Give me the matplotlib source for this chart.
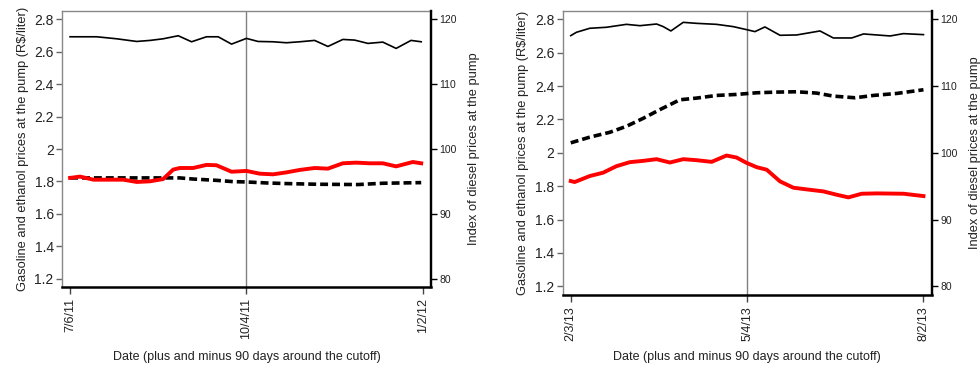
import matplotlib
matplotlib.use("Agg")
import matplotlib.pyplot as plt

plt.rcParams["font.family"] = ["Liberation Sans", "DejaVu Sans"]

# panel 1: 2011 cutoff
TICKS_1 = ["7/6/11", "10/4/11", "1/2/12"]
diesel_days_1 = [0, 13.6, 23.8, 34, 40.8, 47.5, 55.2, 62, 69.6, 75.6, 82.4, 90, 95.9,
                 103.6, 110.4, 117.2, 124.8, 131.6, 139.2, 145.2, 152, 159.6, 166.4, 174, 179.2]
diesel_1 = [117.28, 117.28, 116.97, 116.56, 116.72, 116.97, 117.44, 116.51, 117.28, 117.28,
            116.15, 117.03, 116.56, 116.51, 116.36, 116.51, 116.72, 115.79, 116.87, 116.77,
            116.26, 116.46, 115.49, 116.72, 116.51]
ethanol_days_1 = [0, 5.1, 11.9, 20.4, 27.2, 34, 40.8, 47.5, 52.6, 56, 62.8, 69.6, 74.7, 82.4,
                  90, 96.8, 103.6, 110.4, 117.2, 124.8, 131.6, 139.2, 146, 152.8, 159.6,
                  166.4, 174.9, 179.2]
ethanol_1 = [1.822, 1.830, 1.811, 1.811, 1.811, 1.797, 1.801, 1.815, 1.873, 1.883, 1.883,
             1.902, 1.900, 1.860, 1.865, 1.848, 1.844, 1.856, 1.871, 1.883, 1.879, 1.912,
             1.916, 1.912, 1.912, 1.893, 1.920, 1.912]
gasoline_days_1 = [0, 49.2, 56, 62.8, 74.7, 83.2, 90, 100.2, 110.4, 125.7, 146.9, 159.6, 179.2]
gasoline_1 = [1.822, 1.822, 1.822, 1.815, 1.807, 1.799, 1.797, 1.791, 1.787, 1.783, 1.781,
              1.789, 1.793]

# panel 2: 2013 cutoff
TICKS_2 = ["2/3/13", "5/4/13", "8/2/13"]
diesel_days_2 = [0, 2.9, 9.7, 18.2, 28.4, 35.3, 43.8, 47.2, 51.1, 57.4, 64.2, 74.4, 82.9,
                 89.7, 94, 99.1, 106.8, 115.3, 127.2, 134, 143.4, 149.4, 156.2, 163, 169.8, 180]
diesel_2 = [117.56, 118.06, 118.66, 118.81, 119.25, 119.05, 119.30, 118.91, 118.26, 119.55,
            119.40, 119.25, 118.91, 118.46, 118.16, 118.86, 117.61, 117.66, 118.26, 117.21,
            117.21, 117.81, 117.66, 117.51, 117.86, 117.71]
ethanol_days_2 = [0, 2, 9.7, 16.5, 23.3, 30.1, 37, 43.8, 50.6, 57.4, 64.2, 71.9, 79.5, 84.6,
                  89.7, 94.9, 100, 106.8, 113.6, 120.4, 128.9, 135.7, 141.7, 148.5, 156.2,
                  169.8, 180]
ethanol_2 = [1.831, 1.825, 1.861, 1.881, 1.920, 1.944, 1.952, 1.962, 1.942, 1.962, 1.956,
             1.946, 1.984, 1.972, 1.940, 1.914, 1.899, 1.829, 1.791, 1.781, 1.769, 1.749,
             1.733, 1.755, 1.757, 1.755, 1.741]
gasoline_days_2 = [0, 9.7, 19.9, 28.4, 37, 45.5, 55.7, 64.2, 74.4, 84.6, 94.9, 105.1, 115.3,
                   125.5, 134, 145.1, 154.5, 166.4, 180]
gasoline_2 = [2.060, 2.094, 2.123, 2.159, 2.207, 2.259, 2.318, 2.328, 2.344, 2.350, 2.360,
              2.364, 2.366, 2.358, 2.340, 2.330, 2.344, 2.356, 2.378]

LEFT_TICKS = [1.2, 1.4, 1.6, 1.8, 2, 2.2, 2.4, 2.6, 2.8]
RIGHT_TICKS = [80, 90, 100, 110, 120]
TXT = "#222222"


def draw_panel(ax, ticks, ddays, diesel, edays, ethanol, gdays, gasoline, xlab_y):
    ax.axvline(90, color="#808080", linewidth=1.0, zorder=1)
    ax.plot(gdays, gasoline, color="black", linewidth=2.6, linestyle=(0, (2.2, 1.1)), zorder=3)
    ax.plot(edays, ethanol, color="#ff0000", linewidth=2.8, zorder=4)
    ax.set_xlim(-4.1, 184.2)
    ax.set_ylim(1.15, 2.85)
    ax.set_yticks(LEFT_TICKS)
    ax.set_yticklabels([f"{t:g}" for t in LEFT_TICKS], fontsize=10, color=TXT)
    ax.set_xticks([0, 90, 180])
    ax.set_xticklabels(ticks, rotation=90, fontsize=9, color=TXT)
    ax.set_ylabel("Gasoline and ethanol prices at the pump (R$/liter)", fontsize=9.3,
                  color=TXT, labelpad=4)
    ax.set_xlabel("Date (plus and minus 90 days around the cutoff)", fontsize=9, color=TXT)
    ax.xaxis.set_label_coords(0.5, xlab_y)
    ax.tick_params(axis="y", direction="out", length=4, width=1, color="#666666", pad=2)
    ax.tick_params(axis="x", direction="out", length=5, width=1, color="#444444", pad=3)
    ax.spines["left"].set_color("#888888")
    ax.spines["left"].set_linewidth(1.0)
    ax.spines["top"].set_color("#888888")
    ax.spines["top"].set_linewidth(1.0)
    ax.spines["bottom"].set_linewidth(1.8)
    ax.spines["right"].set_linewidth(1.6)

    ax2 = ax.twinx()
    ax2.plot(ddays, diesel, color="black", linewidth=1.2, zorder=3)
    ax2.set_ylim(78.75, 121.25)
    ax2.set_yticks(RIGHT_TICKS)
    ax2.set_yticklabels([str(t) for t in RIGHT_TICKS], fontsize=7.5, color=TXT)
    ax2.set_ylabel("Index of diesel prices at the pump", fontsize=9.3, color=TXT,
                   labelpad=8)
    ax2.tick_params(direction="out", length=4, width=1, pad=2)
    ax2.spines["left"].set_visible(False)
    ax2.spines["top"].set_visible(False)
    ax2.spines["bottom"].set_visible(False)
    ax2.spines["right"].set_linewidth(1.6)


fig = plt.figure(figsize=(9.8, 3.69), dpi=100)
ax_a = fig.add_axes([0.0633, 0.2222, 0.3765, 0.7480])
ax_b = fig.add_axes([0.5742, 0.2014, 0.3765, 0.7688])

draw_panel(ax_a, TICKS_1, diesel_days_1, diesel_1, ethanol_days_1, ethanol_1,
           gasoline_days_1, gasoline_1, -0.232)
draw_panel(ax_b, TICKS_2, diesel_days_2, diesel_2, ethanol_days_2, ethanol_2,
           gasoline_days_2, gasoline_2, -0.199)

fig.savefig("out.png", dpi=100)
